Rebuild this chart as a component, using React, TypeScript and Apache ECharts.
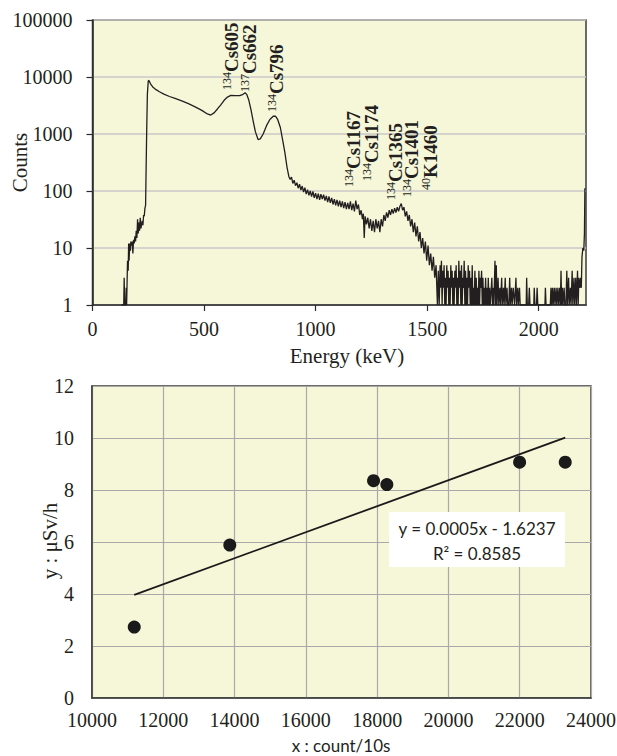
import React, { useEffect, useRef } from "react";
import * as echarts from "echarts";

// ---------- Data: gamma spectrum (energy keV, counts) ----------
const spectrumLow: [number, number][] = [
  [130, 1], [140, 1], [142, 3], [144, 1], [149, 1], [151, 2], [153, 1], [156, 1],
  [157, 6], [160, 4], [162, 12], [164, 6], [167, 12], [170, 9], [172, 13], [175, 11],
  [178, 13], [181, 8], [184, 14], [187, 12], [190, 16], [193, 13], [196, 20], [199, 15],
  [202, 32], [205, 18], [208, 28], [211, 20], [214, 34], [217, 22], [220, 26], [223, 30],
  [226, 25], [229, 38], [232, 36], [235, 50], [238, 56], [240, 200], [243, 1200],
  [246, 5000], [250, 8600],
];
const spectrumPeaks: [number, number][] = [
  [253, 8700], [260, 7600], [270, 6700], [285, 6000], [300, 5500], [320, 5000],
  [345, 4550], [370, 4200], [400, 3800], [430, 3400], [460, 3000], [490, 2600],
  [515, 2250], [530, 2150], [545, 2350], [560, 2750], [575, 3250], [590, 3900],
  [605, 4450], [620, 4750], [640, 4700], [660, 4700], [672, 4900], [684, 5300],
  [692, 4900], [700, 4000], [710, 2700], [720, 1700], [730, 1100], [742, 800],
  [752, 820], [765, 1000], [780, 1400], [795, 1800], [810, 2050], [820, 2050],
  [830, 1800], [842, 1300], [852, 800], [862, 480], [872, 260], [880, 180],
];
const spectrumTail: [number, number][] = [
  [886, 160], [892, 175], [898, 136], [904, 155], [910, 124], [916, 140], [922, 112],
  [928, 132], [934, 104], [940, 122], [946, 96], [952, 114], [958, 88], [964, 106],
  [970, 84], [976, 100], [982, 80], [988, 98], [994, 76], [1000, 92], [1006, 72],
  [1012, 90], [1018, 70], [1024, 88], [1030, 72], [1036, 86], [1042, 68], [1048, 82],
  [1054, 64], [1060, 80], [1066, 62], [1072, 76], [1078, 58], [1084, 72], [1090, 56],
  [1096, 70], [1102, 54], [1108, 68], [1114, 52], [1120, 66], [1126, 50], [1132, 64],
  [1138, 48], [1144, 62], [1150, 48], [1156, 66], [1162, 46], [1168, 60], [1174, 44],
  [1180, 68], [1186, 48], [1192, 58], [1198, 38], [1204, 46], [1210, 32], [1214, 40],
  [1218, 15], [1222, 36], [1228, 26], [1234, 34], [1240, 22], [1246, 32], [1252, 20],
  [1258, 30], [1264, 19], [1270, 32], [1276, 22], [1282, 30], [1288, 19], [1294, 32],
  [1300, 24], [1306, 38], [1312, 30], [1318, 42], [1324, 34], [1330, 46], [1336, 38],
  [1342, 48], [1348, 40], [1354, 50], [1360, 42], [1366, 52], [1372, 44], [1378, 54],
  [1384, 60], [1390, 46], [1396, 52], [1402, 36], [1408, 44], [1414, 30], [1420, 38],
  [1426, 24], [1432, 32], [1438, 19], [1444, 28], [1450, 16], [1456, 24], [1462, 13],
  [1468, 19], [1474, 10], [1480, 15], [1486, 8], [1492, 13], [1498, 6], [1504, 11],
  [1510, 5], [1516, 8], [1522, 4], [1528, 7], [1534, 3], [1540, 5], [1546, 1],
];
const spectrumNoise: [number, number][] = [
  [1550, 4], [1554, 1], [1558, 5], [1561, 2], [1564, 6], [1567, 1], [1570, 4], [1573, 2],
  [1576, 5], [1579, 1], [1582, 3], [1585, 1], [1588, 5], [1591, 2], [1594, 4], [1597, 1],
  [1600, 3], [1603, 1], [1606, 5], [1609, 2], [1612, 4], [1615, 1], [1618, 3], [1621, 1],
  [1624, 4], [1627, 2], [1630, 5], [1633, 1], [1636, 3], [1639, 1], [1642, 6], [1645, 2],
  [1648, 4], [1651, 1], [1654, 5], [1657, 1], [1660, 3], [1663, 2], [1666, 6], [1669, 1],
  [1672, 4], [1675, 1], [1678, 3], [1681, 1], [1684, 5], [1687, 2], [1690, 4], [1693, 1],
  [1696, 3], [1699, 1], [1702, 5], [1705, 1], [1708, 2], [1711, 1], [1714, 4], [1717, 1],
  [1720, 3], [1723, 1], [1726, 2], [1729, 1], [1732, 4], [1735, 1], [1738, 3], [1741, 2],
  [1744, 4], [1747, 1], [1750, 3], [1753, 1], [1756, 2], [1759, 1], [1762, 3], [1765, 1],
  [1768, 2], [1771, 1], [1774, 3], [1777, 1], [1780, 2], [1783, 1], [1786, 1], [1790, 3],
  [1793, 1], [1796, 2], [1799, 1], [1804, 6], [1807, 1], [1810, 5], [1813, 1], [1818, 3],
  [1821, 1], [1826, 2], [1829, 1], [1834, 3], [1837, 1], [1842, 2], [1845, 1], [1850, 3],
  [1853, 1], [1858, 2], [1861, 1], [1866, 1], [1870, 3], [1873, 1], [1878, 2], [1881, 1],
  [1886, 2], [1889, 2], [1892, 1], [1898, 3], [1901, 1], [1906, 2], [1909, 1], [1914, 2],
  [1917, 1], [1922, 1], [1944, 1], [1946, 3], [1949, 1], [1955, 1], [1958, 2], [1961, 1],
  [1978, 1], [1980, 2], [1983, 1], [1990, 1], [1993, 2], [1996, 1], [2028, 1], [2030, 2],
  [2033, 1], [2052, 1], [2055, 2], [2058, 1], [2062, 2], [2065, 1], [2070, 2], [2073, 1],
  [2078, 2], [2081, 1], [2086, 2], [2089, 1], [2094, 2], [2097, 1], [2100, 4], [2103, 1],
  [2106, 2], [2109, 1], [2114, 2], [2117, 1], [2122, 1], [2126, 4], [2129, 1], [2134, 3],
  [2137, 1], [2142, 2], [2145, 1], [2150, 4], [2153, 1], [2158, 3], [2161, 1], [2166, 3],
  [2169, 1], [2174, 4], [2177, 1], [2180, 3], [2184, 2], [2188, 3], [2191, 2], [2194, 7],
  [2198, 10], [2202, 9], [2205, 18], [2207, 112],
];

const energyTicks = [0, 500, 1000, 1500, 2000];
const countTicks = [1, 10, 100, 1000, 10000, 100000];

// Peak annotation labels: isotope mass number (superscript) + nuclide/energy
const peakIsotopes = ["134", "137", "134", "134", "134", "134", "134", "40"];
const peakNames = ["Cs605", "Cs662", "Cs796", "Cs1167", "Cs1174", "Cs1365", "Cs1401", "K1460"];

// ---------- Data: dose rate vs count ----------
const countRate = [11185, 13866, 17899, 18272, 21997, 23277];
const doseRate = [2.73, 5.88, 8.36, 8.21, 9.07, 9.07];
const trendSlope = 0.0005;
const trendIntercept = -1.6237;
const trendLabel = ["y = 0.0005x - 1.6237", "R² = 0.8585"];

// ---------- Layout (pixels) ----------
const peakLabelPos: [number, number][] = [
  [231, 90], [249, 92], [276, 112], [353, 187], [371, 181], [395, 200], [411, 197], [430, 190],
];

const INK = "#231f20";
const SERIF = "'Liberation Serif', 'Times New Roman', serif";
const SANS = "Lato, 'Open Sans', sans-serif";
const BG = "#f6f6d9";
const plain = (v: number) => String(Math.round(v));

export default function App() {
  const ref = useRef<HTMLDivElement>(null);

  useEffect(() => {
    if (!ref.current) return;
    const chart = echarts.init(ref.current, null, { renderer: "svg" });

    const spectrum = [...spectrumLow, ...spectrumPeaks, ...spectrumTail, ...spectrumNoise];
    const scatterData = countRate.map((x, i) => [x, doseRate[i]]);
    const xMin = Math.min(...countRate);
    const xMax = Math.max(...countRate);
    const trendData = [
      [xMin, trendSlope * xMin + trendIntercept],
      [xMax, trendSlope * xMax + trendIntercept],
    ];

    const peakGraphics = peakNames.map((name, i) => ({
      type: "text",
      x: peakLabelPos[i][0],
      y: peakLabelPos[i][1],
      rotation: Math.PI / 2,
      silent: true,
      z: 100,
      style: {
        text: `{sup|${peakIsotopes[i]}}{main|${name}}`,
        textAlign: "left",
        textVerticalAlign: "middle",
        fill: INK,
        rich: {
          sup: {
            fontFamily: SERIF,
            fontSize: 12,
            lineHeight: 13,
            verticalAlign: "top",
            fill: INK,
          },
          main: {
            fontFamily: SERIF,
            fontSize: 19,
            lineHeight: 20,
            fontWeight: "bold",
            fill: INK,
          },
        },
      },
    }));

    const axisText = { fontSize: 20, fontFamily: SERIF, color: INK };
    const titleText = (text: string, x: number, y: number, rot: number, family: string, size: number) => ({
      type: "text", x, y, rotation: rot, silent: true,
      style: {
        text, fontFamily: family, fontSize: size, fill: INK,
        textAlign: "center", textVerticalAlign: "middle",
      },
    });

    const option: any = {
      animation: false,
      backgroundColor: "#ffffff",
      textStyle: { fontFamily: SERIF, color: INK },
      grid: [
        {
          left: 92.5, top: 20, width: 493.5, height: 285,
          show: true, backgroundColor: BG, borderColor: "#3c3c3c", borderWidth: 1.5,
          containLabel: false, outerBoundsMode: "none",
        },
        {
          left: 92, top: 386, width: 499, height: 312,
          show: true, backgroundColor: BG, borderColor: "#3c3c3c", borderWidth: 1.5,
          containLabel: false, outerBoundsMode: "none",
        },
      ],
      xAxis: [
        {
          gridIndex: 0, type: "value", min: 0, max: 2212, interval: 500,
          axisLine: { show: true, onZero: false, lineStyle: { color: "#2a2a2a", width: 1.5 } },
          axisTick: { show: true, inside: false, length: 6, customValues: energyTicks, lineStyle: { color: "#2a2a2a", width: 1.2 } },
          axisLabel: { ...axisText, customValues: energyTicks, margin: 14, formatter: plain },
          splitLine: { show: false },
        },
        {
          gridIndex: 1, type: "value", min: 10000, max: 24000, interval: 2000,
          axisLine: { show: true, onZero: false, lineStyle: { color: "#3c3c3c", width: 1.5 } },
          axisTick: { show: false },
          axisLabel: { ...axisText, margin: 12, formatter: plain },
          splitLine: { show: true, lineStyle: { color: "#a9a9a9", width: 1.2 } },
        },
      ],
      yAxis: [
        {
          gridIndex: 0, type: "log", logBase: 10, min: 1, max: 100000,
          axisLine: { show: true, onZero: false, lineStyle: { color: "#2a2a2a", width: 1.5 } },
          axisTick: { show: true, inside: false, length: 6, customValues: countTicks, lineStyle: { color: "#2a2a2a", width: 1.2 } },
          axisLabel: { ...axisText, customValues: countTicks, margin: 20, formatter: plain },
          splitLine: { show: true, lineStyle: { color: "#c9c9c9", width: 1.5 } },
          minorTick: { show: false },
        },
        {
          gridIndex: 1, type: "value", min: 0, max: 12, interval: 2,
          axisLine: { show: true, onZero: false, lineStyle: { color: "#3c3c3c", width: 1.5 } },
          axisTick: { show: false },
          axisLabel: { ...axisText, margin: 18, formatter: plain },
          splitLine: { show: true, lineStyle: { color: "#a9a9a9", width: 1.2 } },
        },
      ],
      series: [
        {
          type: "line", xAxisIndex: 0, yAxisIndex: 0, data: spectrum,
          showSymbol: false, symbol: "none", clip: true,
          lineStyle: { color: INK, width: 1.3 },
        },
        {
          type: "line", xAxisIndex: 1, yAxisIndex: 1, data: trendData,
          showSymbol: false, symbol: "none",
          lineStyle: { color: "#1a1a1a", width: 1.8 },
          z: 2,
        },
        {
          type: "scatter", xAxisIndex: 1, yAxisIndex: 1, data: scatterData,
          symbolSize: 13, itemStyle: { color: "#1a1a1a", opacity: 1 },
          z: 3,
        },
      ],
      graphic: [
        ...peakGraphics,
        titleText("Counts", 20, 162.5, Math.PI / 2, SERIF, 21),
        titleText("Energy (keV)", 347, 356, 0, SERIF, 21),
        titleText("y : μSv/h", 50, 541, Math.PI / 2, SERIF, 21),
        titleText("x : count/10s", 341, 745, 0, SANS, 17),
        {
          type: "rect", z: 50, silent: true,
          shape: { x: 389, y: 512, width: 176, height: 55 },
          style: { fill: "#ffffff" },
        },
        { ...titleText(trendLabel[0], 477, 528, 0, SANS, 17), z: 51 },
        { ...titleText(trendLabel[1], 477, 553, 0, SANS, 17), z: 51 },
      ],
    };

    chart.setOption(option);
    return () => chart.dispose();
  }, []);

  return (
    <div
      ref={ref}
      style={{ position: "fixed", left: 0, top: 0, width: 617, height: 756, background: "#fff" }}
    />
  );
}
